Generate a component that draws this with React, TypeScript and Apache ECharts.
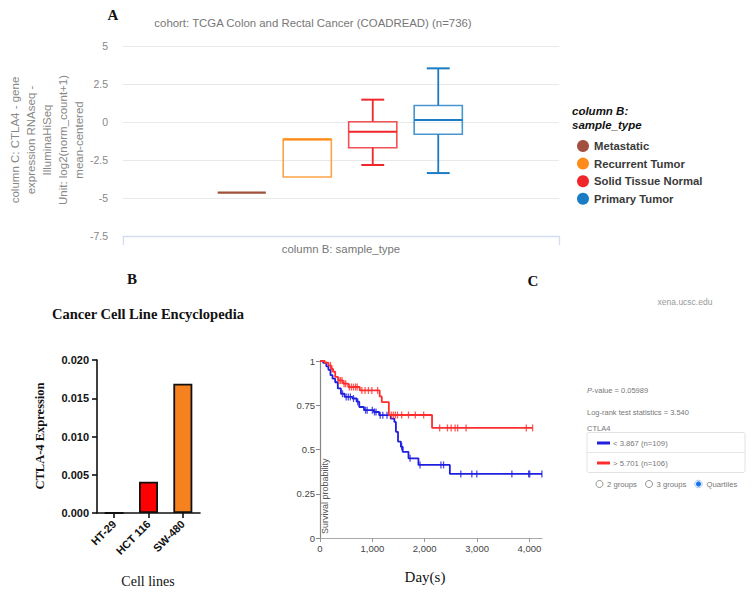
import React, { useEffect, useRef } from "react";
import * as echarts from "echarts";

// ---------- Panel A: boxplot (TCGA COADREAD) ----------
const sampleTypes = ["Metastatic", "Recurrent Tumor", "Solid Tissue Normal", "Primary Tumor"];
const sampleColors = ["#a0503c", "#ff8c1a", "#f0262a", "#1a7cc4"];
const boxMin = [-4.65, -3.62, -2.83, -3.36];
const boxQ1 = [-4.65, -3.62, -1.69, -0.81];
const boxMedian = [-4.65, -1.14, -0.64, 0.13];
const boxQ3 = [-4.65, -1.14, 0.02, 1.09];
const boxMax = [-4.65, -1.14, 1.47, 3.53];

// ---------- Panel B: CCLE bars ----------
const cellLines = ["HT-29", "HCT 116", "SW-480"];
const ctla4Expression = [0, 0.0041, 0.0169];
const barColors = ["#ff0000", "#ff0000", "#f5821f"];

// ---------- Panel C: Kaplan-Meier ----------
const lowTimes = [0, 60, 120, 160, 200, 240, 290, 340, 400, 470, 620, 700, 750, 840, 1030, 1130, 1350, 1420, 1450, 1490, 1545, 1580, 1690, 1880, 2480, 4240];
const lowSurv = [1, 0.99, 0.97, 0.95, 0.92, 0.9, 0.88, 0.845, 0.815, 0.797, 0.788, 0.77, 0.74, 0.722, 0.712, 0.694, 0.675, 0.656, 0.6, 0.545, 0.515, 0.487, 0.45, 0.413, 0.362, 0.362];
const lowCensor = [430, 500, 540, 580, 640, 720, 870, 900, 1000, 1040, 1070, 1150, 1200, 1280, 1560, 1720, 1910, 2310, 2360, 2690, 2900, 2995, 3665, 3985, 4005, 4238];

const highTimes = [0, 90, 160, 210, 250, 290, 345, 440, 540, 760, 1140, 1180, 1315, 2140, 4060];
const highSurv = [1, 0.99, 0.975, 0.955, 0.94, 0.91, 0.89, 0.872, 0.853, 0.834, 0.8, 0.768, 0.695, 0.622, 0.622];
const highCensor = [200, 230, 360, 390, 420, 460, 490, 560, 600, 640, 680, 710, 800, 860, 925, 990, 1100, 1360, 1400, 1440, 1480, 1560, 1690, 1820, 1980, 2285, 2435, 2505, 2580, 2630, 2790, 3940, 4060];

const kmLegend = ["< 3.867 (n=109)", "> 5.701 (n=106)"];
const kmColors = ["#1f1fe0", "#ff2e2e"];

const SANS = '"Liberation Sans", Arial, Helvetica, sans-serif';
const SERIF = '"Liberation Serif", "Times New Roman", serif';

function survivalAt(times: number[], surv: number[], t: number) {
  let s = surv[0];
  for (let i = 0; i < times.length; i++) {
    if (times[i] <= t) s = surv[i];
  }
  return s;
}

function renderBox(params: any, api: any) {
  const cat = api.value(0);
  const vMin = api.value(1);
  const vQ1 = api.value(2);
  const vMed = api.value(3);
  const vQ3 = api.value(4);
  const vMax = api.value(5);
  const color = api.visual("color");
  const band = api.size([1, 0])[0];
  const cx = api.coord([cat, vMed])[0];
  const yMin = api.coord([cat, vMin])[1];
  const yQ1 = api.coord([cat, vQ1])[1];
  const yMed = api.coord([cat, vMed])[1];
  const yQ3 = api.coord([cat, vQ3])[1];
  const yMax = api.coord([cat, vMax])[1];
  const bw = band * 0.735;
  const cw = band * 0.35;
  const children: any[] = [];
  if (yQ1 - yQ3 > 0.5) {
    children.push({
      type: "rect",
      shape: { x: cx - bw / 2, y: yQ3, width: bw, height: yQ1 - yQ3 },
      style: { fill: "none", stroke: color, lineWidth: 1.6, opacity: 0.8 },
    });
  }
  if (yQ3 - yMax > 0.5) {
    children.push({ type: "line", shape: { x1: cx, y1: yQ3, x2: cx, y2: yMax }, style: { stroke: color, lineWidth: 1.8 } });
    children.push({ type: "line", shape: { x1: cx - cw / 2, y1: yMax, x2: cx + cw / 2, y2: yMax }, style: { stroke: color, lineWidth: 2 } });
  }
  if (yMin - yQ1 > 0.5) {
    children.push({ type: "line", shape: { x1: cx, y1: yQ1, x2: cx, y2: yMin }, style: { stroke: color, lineWidth: 1.8 } });
    children.push({ type: "line", shape: { x1: cx - cw / 2, y1: yMin, x2: cx + cw / 2, y2: yMin }, style: { stroke: color, lineWidth: 2 } });
  }
  children.push({ type: "line", shape: { x1: cx - bw / 2, y1: yMed, x2: cx + bw / 2, y2: yMed }, style: { stroke: color, lineWidth: 2.2 } });
  return { type: "group", children };
}

function txt(x: number, y: number, text: string, opts: any = {}) {
  const align = opts.align || "left";
  const valign = opts.valign || "middle";
  return {
    type: "text",
    x,
    y,
    rotation: opts.rotation || 0,
    style: {
      text,
      fill: opts.color || "#111",
      fontSize: opts.size || 11,
      fontFamily: opts.family || SANS,
      fontWeight: opts.weight || "normal",
      fontStyle: opts.style || "normal",
      textAlign: align,
      align,
      textVerticalAlign: valign,
      verticalAlign: valign,
      lineHeight: opts.lineHeight,
      rich: opts.rich,
    },
  };
}

export default function App() {
  const ref = useRef<HTMLDivElement>(null);

  useEffect(() => {
    if (!ref.current) return;
    const chart = echarts.init(ref.current, undefined, { renderer: "svg" });

    const boxSeries = sampleTypes.map((name, i) => ({
      name,
      type: "custom",
      xAxisIndex: 1,
      yAxisIndex: 1,
      renderItem: renderBox,
      itemStyle: { color: sampleColors[i] },
      encode: { x: 0, y: [1, 2, 3, 4, 5] },
      data: [[i, boxMin[i], boxQ1[i], boxMedian[i], boxQ3[i], boxMax[i]]],
      silent: true,
      z: 5,
    }));

    const kmSets = [
      { times: lowTimes, surv: lowSurv, censor: lowCensor },
      { times: highTimes, surv: highSurv, censor: highCensor },
    ];
    const kmSeries: any[] = [];
    kmSets.forEach((s, k) => {
      kmSeries.push({
        name: kmLegend[k],
        type: "line",
        xAxisIndex: 3,
        yAxisIndex: 3,
        step: "end",
        showSymbol: false,
        symbol: "none",
        lineStyle: { color: kmColors[k], width: 1.8 },
        data: s.times.map((t, i) => [t, s.surv[i]]),
        z: 3 + k,
      });
      kmSeries.push({
        name: kmLegend[k] + " censored",
        type: "scatter",
        xAxisIndex: 3,
        yAxisIndex: 3,
        symbol: "rect",
        symbolSize: [1.3, 7],
        itemStyle: { color: kmColors[k] },
        data: s.censor.map((t) => [t, survivalAt(s.times, s.surv, t)]),
        z: 4 + k,
      });
    });

    const option: any = {
      animation: false,
      backgroundColor: "#ffffff",
      textStyle: { fontFamily: SANS },
      grid: [
        { left: 123, top: 46, width: 436, height: 190, outerBoundsMode: "none" },
        { left: 209, top: 46, width: 262, height: 190, outerBoundsMode: "none" },
        { left: 97, top: 360, width: 103, height: 153, outerBoundsMode: "none" },
        { left: 320, top: 361, width: 222, height: 177, outerBoundsMode: "none" },
      ],
      xAxis: [
        {
          gridIndex: 0,
          type: "value",
          min: 0,
          max: 1,
          interval: 1,
          axisLine: { show: true, onZero: false, lineStyle: { color: "#d2ddf0", width: 1.3 } },
          axisTick: { show: true, length: 9, lineStyle: { color: "#d2ddf0", width: 1.3 } },
          axisLabel: { show: false },
          splitLine: { show: false },
          name: "column B: sample_type",
          nameLocation: "middle",
          nameGap: 7,
          nameTextStyle: { color: "#777", fontSize: 11.4, fontFamily: SANS },
        },
        {
          gridIndex: 1,
          type: "category",
          data: sampleTypes,
          show: false,
        },
        {
          gridIndex: 2,
          type: "category",
          data: cellLines,
          axisLine: { show: true, onZero: false, lineStyle: { color: "#111", width: 1.6 } },
          axisTick: { show: true, alignWithLabel: true, length: 5, lineStyle: { color: "#111", width: 1.6 } },
          axisLabel: { rotate: 45, color: "#111", fontWeight: "bold", fontSize: 11, fontFamily: SANS, margin: 9 },
          splitLine: { show: false },
        },
        {
          gridIndex: 3,
          type: "value",
          min: 0,
          max: 4240,
          interval: 1000,
          axisLine: { show: true, onZero: false, lineStyle: { color: "#aaa", width: 1.2 } },
          axisTick: { show: true, length: 4, lineStyle: { color: "#999" } },
          axisLabel: {
            color: "#444",
            fontSize: 9.5,
            fontFamily: SANS,
            margin: 5,
            showMaxLabel: false,
            formatter: (v: number) => (v % 1000 === 0 ? v.toLocaleString("en-US") : ""),
          },
          splitLine: { show: false },
        },
      ],
      yAxis: [
        {
          gridIndex: 0,
          type: "value",
          min: -7.5,
          max: 5,
          interval: 2.5,
          axisLine: { show: false, onZero: false },
          axisTick: { show: false },
          axisLabel: { color: "#888", fontSize: 10.5, fontFamily: SANS, margin: 15 },
          splitLine: { show: true, lineStyle: { color: "#e9e9e9", width: 1.2 } },
        },
        {
          gridIndex: 1,
          type: "value",
          min: -7.5,
          max: 5,
          show: false,
          splitLine: { show: false },
        },
        {
          gridIndex: 2,
          type: "value",
          min: 0,
          max: 0.02,
          interval: 0.005,
          axisLine: { show: true, onZero: false, lineStyle: { color: "#111", width: 1.6 } },
          axisTick: { show: true, length: 5, lineStyle: { color: "#111", width: 1.6 } },
          axisLabel: {
            color: "#111",
            fontWeight: "bold",
            fontSize: 11,
            fontFamily: SANS,
            margin: 8,
            formatter: (v: number) => v.toFixed(3),
          },
          splitLine: { show: false },
        },
        {
          gridIndex: 3,
          type: "value",
          min: 0,
          max: 1,
          interval: 0.25,
          axisLine: { show: true, onZero: false, lineStyle: { color: "#888", width: 1.2 } },
          axisTick: { show: true, length: 4, lineStyle: { color: "#888" } },
          axisLabel: { color: "#444", fontSize: 9.5, fontFamily: SANS, margin: 5 },
          splitLine: { show: false },
        },
      ],
      legend: {
        data: sampleTypes,
        orient: "vertical",
        left: 572,
        top: 135,
        padding: 5,
        icon: "circle",
        itemWidth: 12,
        itemHeight: 12,
        itemGap: 5.6,
        selectedMode: false,
        textStyle: { color: "#3a3a3a", fontSize: 11.3, fontWeight: "bold", fontFamily: SANS },
      },
      series: [
        ...boxSeries,
        {
          name: "CTLA-4 Expression",
          type: "bar",
          xAxisIndex: 2,
          yAxisIndex: 2,
          barWidth: 19,
          data: ctla4Expression.map((v, i) => ({ value: v, itemStyle: { color: barColors[i] } })),
          itemStyle: { borderColor: "#111", borderWidth: 1.8 },
          silent: true,
        },
        ...kmSeries,
      ],
      graphic: [
        // Panel labels
        txt(113, 15, "A", { family: SERIF, weight: "bold", size: 15, align: "center" }),
        txt(132, 279, "B", { family: SERIF, weight: "bold", size: 15, align: "center" }),
        txt(533, 281, "C", { family: SERIF, weight: "bold", size: 15, align: "center" }),
        // Panel A texts
        txt(313, 23, "cohort: TCGA Colon and Rectal Cancer (COADREAD) (n=736)", { color: "#777", size: 11.4, align: "center" }),
        txt(
          47,
          140,
          "column C: CTLA4 - gene\nexpression RNAseq -\nIlluminaHiSeq\nUnit: log2(norm_count+1)\nmean-centered",
          { color: "#888", size: 11.5, align: "center", rotation: Math.PI / 2, lineHeight: 15.8 }
        ),
        txt(572, 111, "column B:", { weight: "bold", style: "italic", size: 11.5, color: "#111" }),
        txt(572, 125, "sample_type", { weight: "bold", style: "italic", size: 11.5, color: "#111" }),
        // Panel B texts
        txt(148, 314, "Cancer Cell Line Encyclopedia", { family: SERIF, weight: "bold", size: 14.5, align: "center" }),
        txt(40, 436, "CTLA-4 Expression", { family: SERIF, weight: "bold", size: 12.5, align: "center", rotation: Math.PI / 2 }),
        txt(148, 581, "Cell lines", { family: SERIF, size: 14, align: "center" }),
        // Panel C texts
        txt(685, 302, "xena.ucsc.edu", { color: "#999", size: 8.5, align: "center" }),
        txt(325, 534, "Survival probability", { color: "#555", size: 9, align: "left", rotation: Math.PI / 2 }),
        txt(425, 577, "Day(s)", { family: SERIF, size: 15, align: "center" }),
        txt(587, 390, "{i|P}-value = 0.05989", {
          color: "#777",
          size: 7.5,
          rich: { i: { fontStyle: "italic", fontSize: 7.5, fill: "#777", color: "#777", fontFamily: SANS } },
        }),
        txt(587, 412, "Log-rank test statistics = 3.540", { color: "#777", size: 7.5 }),
        txt(587, 428, "CTLA4", { color: "#777", size: 7.5 }),
        {
          type: "rect",
          shape: { x: 587, y: 432.5, width: 158, height: 40, r: 2 },
          style: { fill: "#fff", stroke: "#e2e2e2", lineWidth: 1 },
        },
        { type: "line", shape: { x1: 587, y1: 452.5, x2: 745, y2: 452.5 }, style: { stroke: "#e6e6e6", lineWidth: 1 } },
        { type: "rect", shape: { x: 597, y: 441.5, width: 13, height: 3 }, style: { fill: kmColors[0] } },
        { type: "rect", shape: { x: 597, y: 461.5, width: 13, height: 3 }, style: { fill: kmColors[1] } },
        txt(613, 443, kmLegend[0], { color: "#777", size: 7.7 }),
        txt(613, 463, kmLegend[1], { color: "#777", size: 7.7 }),
        { type: "circle", shape: { cx: 599.5, cy: 484, r: 3.5 }, style: { fill: "#fff", stroke: "#888", lineWidth: 0.9 } },
        txt(607, 484, "2 groups", { color: "#777", size: 7.7 }),
        { type: "circle", shape: { cx: 649, cy: 484, r: 3.5 }, style: { fill: "#fff", stroke: "#888", lineWidth: 0.9 } },
        txt(656.5, 484, "3 groups", { color: "#777", size: 7.7 }),
        { type: "circle", shape: { cx: 698.5, cy: 484, r: 3.8 }, style: { fill: "#fff", stroke: "#9ec2f0", lineWidth: 0.9 } },
        { type: "circle", shape: { cx: 698.5, cy: 484, r: 2.6 }, style: { fill: "#1a73e8" } },
        txt(706.5, 484, "Quartiles", { color: "#777", size: 7.7 }),
      ],
    };

    chart.setOption(option);
    return () => {
      chart.dispose();
    };
  }, []);

  return (
    <div
      ref={ref}
      style={{ position: "absolute", left: 0, top: 0, width: 752, height: 601, background: "#fff" }}
    />
  );
}
